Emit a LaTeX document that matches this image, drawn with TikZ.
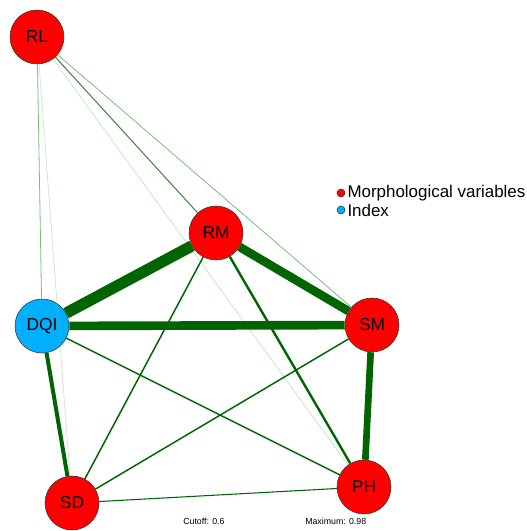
\documentclass[tikz,border=0pt]{standalone}
\usepackage{fontspec}
\setmainfont{Liberation Sans}
\usetikzlibrary{arrows, positioning}
\definecolor{varred}{RGB}{255,0,0}
\definecolor{idxblue}{RGB}{0,176,255}
\definecolor{edgegreen}{RGB}{0,100,0}
\definecolor{faintgreen}{RGB}{120,190,120}

\begin{document}
\begin{tikzpicture}[x=0.75pt, y=-0.75pt,
      var/.style = {circle, draw=black!80, fill=varred, minimum size=40.5pt, inner sep=0pt, font=\fontsize{13}{14}\selectfont},
      idx/.style = {var, fill=idxblue},
      edge/.style = {draw=edgegreen},
      weak/.style = {draw=faintgreen, line width=0.6pt},
      dot/.style = {circle, draw=black!80, minimum size=6pt, inner sep=0pt},
      legend/.style = {anchor=west, inner sep=0pt, font=\fontsize{12.7}{14}\selectfont},
      note/.style = {inner sep=0pt, font=\fontsize{6.6}{7}\selectfont}
    ]
    \useasboundingbox (0,0) rectangle (526,531);

    \node[var] (rl) at (37,37) {RL};
    \node[var] (rm) at (216,233) {RM};
    \node[idx] (dqi) at (42,326) {DQI};
    \node[var] (sm) at (372,325) {SM};
    \node[var] (sd) at (72,503) {SD};
    \node[var] (ph) at (364,487) {PH};

    % weak links
    \draw[weak, draw opacity=0.35] (rl) -- (sd);
    \draw[weak, draw opacity=0.4] (rl) -- (ph);
    \draw[weak] (rl) -- (dqi);
    \draw[weak] (rl) -- (sm);
    \draw[edge, line width=0.8pt, draw opacity=0.75] (rl) -- (rm);

    % strong links
    \draw[edge, line width=8.5pt] (dqi) -- (rm);
    \draw[edge, line width=6.5pt] (dqi) -- (sm);
    \draw[edge, line width=6.5pt] (rm) -- (sm);
    \draw[edge, line width=5pt] (sm) -- (ph);
    \draw[edge, line width=3pt] (dqi) -- (sd);
    \draw[edge, line width=1.8pt] (rm) -- (ph);
    \draw[edge, line width=1.1pt] (rm) -- (sd);
    \draw[edge, line width=1.1pt] (dqi) -- (ph);
    \draw[edge, line width=1.1pt] (sm) -- (sd);
    \draw[edge, line width=0.8pt] (sd) -- (ph);

    % legend
    \node[dot, fill=varred] (dotvar) at (341,193) {};
    \node[legend, right=1.5pt of dotvar] (legvar) {Morphological variables};
    \node[dot, fill=idxblue] (dotidx) at (341,210) {};
    \node[legend, right=1.5pt of dotidx] (legidx) {Index};

    \node[note, anchor=west] (cutoff) at (183,521) {Cutoff: 0.6};
    \node[note, anchor=west] (maximum) at (305,521) {Maximum: 0.98};

    \end{tikzpicture}
\end{document}
